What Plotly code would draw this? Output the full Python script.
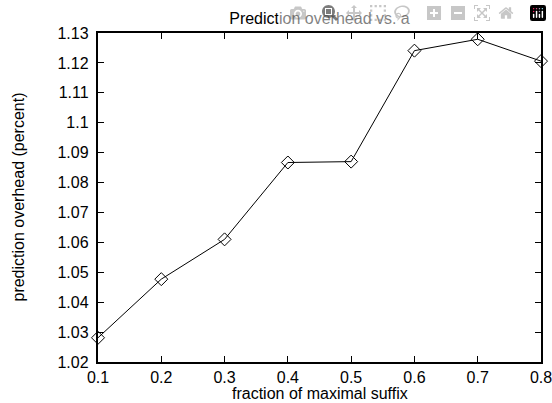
import plotly.graph_objects as go

fraction = [0.1, 0.2, 0.3, 0.4, 0.5, 0.6, 0.7, 0.8]
overhead = [1.0281, 1.0477, 1.0610, 1.0867, 1.0870, 1.1241, 1.1279, 1.1206]
x_ticks = [0.1, 0.2, 0.3, 0.4, 0.5, 0.6, 0.7, 0.8]
y_ticks = [1.02, 1.03, 1.04, 1.05, 1.06, 1.07, 1.08, 1.09, 1.1, 1.11, 1.12, 1.13]
y_ticktext = ["1.02", "1.03", "1.04", "1.05", "1.06", "1.07", "1.08", "1.09", "1.1", "1.11", "1.12", "1.13"]
x_range = [0.1, 0.8]
y_range = [1.02, 1.13]

FONT = "Liberation Sans, Arial, Helvetica, sans-serif"
FS = 16

W, H = 552, 403
L, R, T, B = 98, 11, 33, 41

fig = go.Figure()
fig.add_trace(go.Scatter(
    x=fraction, y=overhead, mode="lines+markers",
    line=dict(color="black", width=1),
    marker=dict(symbol="diamond-open", size=10, color="black", line=dict(width=1)),
    cliponaxis=False, showlegend=False,
))

axis_common = dict(
    showgrid=False, zeroline=False, showline=True, linecolor="black", linewidth=1.5,
    mirror="allticks", ticks="inside", ticklen=6, tickwidth=1.2, tickcolor="black",
    tickfont=dict(family=FONT, size=FS, color="black"), automargin=False,
)

fig.update_layout(
    width=W, height=H,
    margin=dict(l=L, r=R, t=T, b=B, autoexpand=False),
    paper_bgcolor="white", plot_bgcolor="white",
    font=dict(family=FONT, size=FS, color="black"),
    title=dict(text="Prediction overhead vs. a", x=(L + (W - L - R) / 2) / W, xanchor="center",
               y=1 - 18 / H, yanchor="middle", font=dict(family=FONT, size=FS)),
    xaxis=dict(range=x_range, tickvals=x_ticks, ticktext=[str(v) for v in x_ticks],
               ticklabeloverflow="allow", **axis_common),
    yaxis=dict(range=y_range, tickvals=y_ticks, ticktext=[t + " " for t in y_ticktext],
               **axis_common),
    annotations=[
        dict(text="fraction of maximal suffix", xref="paper", yref="paper", x=0.5, y=0,
             xanchor="center", yanchor="middle", yshift=-31, showarrow=False,
             font=dict(family=FONT, size=FS)),
        dict(text="prediction overhead (percent)", xref="paper", yref="paper", x=0, y=0.5,
             xanchor="center", yanchor="middle", xshift=-80, textangle=-90, showarrow=False,
             font=dict(family=FONT, size=FS)),
    ],
)

fig.write_html("out.html", post_script="document.body.style.margin='0';document.body.style.overflow='hidden';")
